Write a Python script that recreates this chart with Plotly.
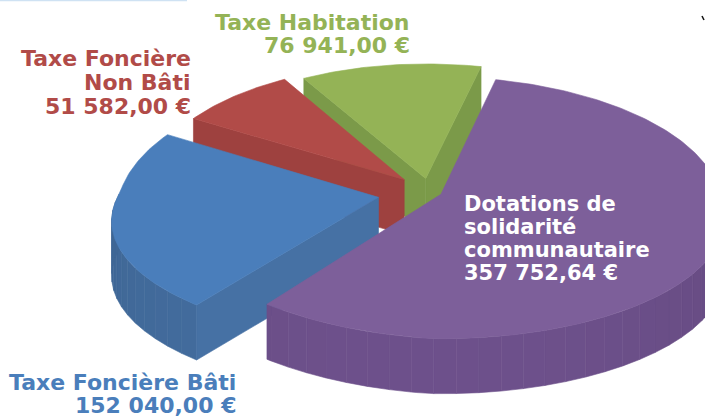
import numpy as np
import plotly.graph_objects as go

# ---- data ----
labels = ["Dotations de solidarité communautaire", "Taxe Foncière Bâti", "Taxe Foncière Non Bâti", "Taxe Habitation"]
values = [357752.64, 152040.00, 51582.00, 76941.00]
value_texts = ["357 752,64 €", "152 040,00 €", "51 582,00 €", "76 941,00 €"]

# ---- styles / layout ----
top_colors = ["#7D5F9A", "#4A7EBB", "#B14B48", "#94B356"]
cut_colors = ["#6C4F88", "#4671A4", "#9E413F", "#7B9A49"]
rim_colors = [(110, 81, 140), (68, 110, 160), (158, 65, 63), (123, 154, 73)]
explode = [0.044, 0.195, 0.137, 0.107]
draw_order = [3, 2, 1, 0]
START = 13.0
CX, CY, RX, RY, PERSP, DEPTH, WARP = 430, 192, 270, 129, 0.103, 55, 0.03
NEAR_X, NEAR_Y = 20, 14


def project(x, y):
    x, y = np.asarray(x), np.asarray(y)
    w = 1 + PERSP * y
    near = np.maximum(-y, 0)
    return (CX + RX * x * (1 + WARP * x) / w + NEAR_X * x * near,
            CY - RY * y / w - NEAR_Y * np.maximum(-x, 0) * near)


def closed(xs, ys):
    return list(xs) + [xs[0]], list(ys) + [ys[0]]


def poly(xs, ys, color, line=0.6):
    xs, ys = closed(xs, ys)
    return go.Scatter(x=xs, y=ys, mode="lines", fill="toself", fillcolor=color,
                      line=dict(color=color, width=line), hoverinfo="skip", showlegend=False)


total = sum(values)
sweeps = [v / total * 360 for v in values]
starts = START + np.concatenate([[0], np.cumsum(sweeps)[:-1]])

fig = go.Figure()
for i in draw_order:
    a0, a1 = starts[i], starts[i] + sweeps[i]
    mid = np.radians((a0 + a1) / 2)
    ox, oy = explode[i] * np.sin(mid), explode[i] * np.cos(mid)
    th = np.radians(np.linspace(a0, a1, max(int(sweeps[i] / 1.0), 8) + 1))
    wx, wy = ox + np.sin(th), oy + np.cos(th)
    sx, sy = project(wx, wy)
    ax, ay = project(ox, oy)
    ax, ay = float(ax), float(ay)
    # rim wall as facets; only the part that faces the viewer
    step = 4
    for k in range(0, len(th) - 1, step):
        e = min(k + step, len(th) - 1)
        if np.cos(th[k]) >= 0 and np.cos(th[e]) >= 0:
            continue
        shade = 0.97 + 0.03 * np.cos(th[k] * 2.0)
        col = "rgb(%d,%d,%d)" % tuple(min(255, int(c * shade)) for c in rim_colors[i])
        xs = list(sx[k:e + 1]) + list(sx[k:e + 1][::-1])
        ys = list(sy[k:e + 1]) + list((sy[k:e + 1] + DEPTH)[::-1])
        fig.add_trace(poly(xs, ys, col))
    # cut faces that look towards the viewer
    if np.sin(th[-1]) > 0:
        fig.add_trace(poly([ax, sx[-1], sx[-1], ax], [ay, sy[-1], sy[-1] + DEPTH, ay + DEPTH], cut_colors[i]))
    if np.sin(th[0]) < 0:
        fig.add_trace(poly([ax, sx[0], sx[0], ax], [ay, sy[0], sy[0] + DEPTH, ay + DEPTH], cut_colors[i]))
    # top face
    fig.add_trace(poly([ax] + list(sx), [ay] + list(sy), top_colors[i]))

font = "DejaVu Sans"
notes = [
    (412, [22, 45], ["Taxe Habitation", value_texts[3]], "right", "#94B356", 22),
    (193, [58, 82, 106], ["Taxe Foncière", "Non Bâti", value_texts[2]], "right", "#B14B48", 22),
    (238, [382, 405], ["Taxe Foncière Bâti", value_texts[1]], "right", "#4A7EBB", 22),
    (462, [204, 227, 250, 273], ["Dotations de", "solidarité", "communautaire", value_texts[0]], "left", "#FFFFFF", 21),
]
for x, ys, lines, al, col, size in notes:
    for y, t in zip(ys, lines):
        fig.add_annotation(x=x, y=y, xref="x", yref="y", text="<b>" + t + "</b>", showarrow=False,
                           xanchor=al, yanchor="middle", xshift=0,
                           font=dict(family=font, size=size, color=col))

fig.update_layout(
    width=705, height=420, margin=dict(l=0, r=0, t=0, b=0),
    paper_bgcolor="white", plot_bgcolor="white", showlegend=False,
    xaxis=dict(range=[0, 705], visible=False, fixedrange=True),
    yaxis=dict(range=[420, 0], visible=False, fixedrange=True),
    shapes=[
        dict(type="line", x0=0, x1=187, y0=0.5, y1=0.5, line=dict(color="#CFE2F3", width=1.5)),
        dict(type="line", x0=702, x1=704, y0=16, y1=20, line=dict(color="#111111", width=1.5)),
    ],
)
fig.write_html("out.html", config=dict(displayModeBar=False),
               post_script="document.body.style.margin='0';document.documentElement.style.overflow='hidden';")
